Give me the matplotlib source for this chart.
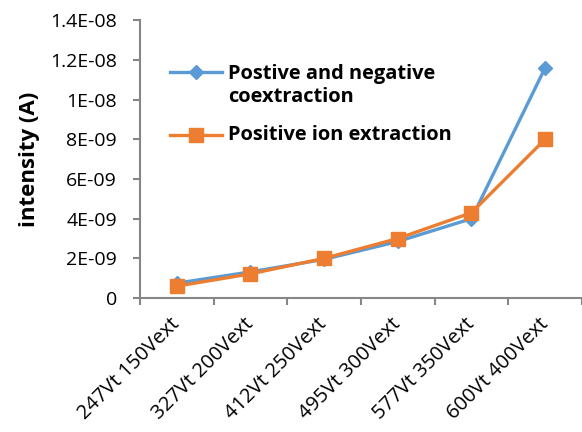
import matplotlib.pyplot as plt
from matplotlib.ticker import FixedLocator, FixedFormatter

plt.rcParams["font.family"] = ["Open Sans", "DejaVu Sans"]

categories = [
    "247Vt 150Vext",
    "327Vt 200Vext",
    "412Vt 250Vext",
    "495Vt 300Vext",
    "577Vt 350Vext",
    "600Vt 400Vext",
]
coextraction = [0.75e-9, 1.32e-9, 1.95e-9, 2.85e-9, 4.0e-9, 11.6e-9]
positive_ion = [0.6e-9, 1.22e-9, 2.0e-9, 3.0e-9, 4.3e-9, 8.0e-9]

y_ticks = [0, 2e-9, 4e-9, 6e-9, 8e-9, 1e-8, 1.2e-8, 1.4e-8]
y_tick_labels = ["0", "2E-09", "4E-09", "6E-09", "8E-09", "1E-08", "1.2E-08", "1.4E-08"]

BLUE = "#5B9BD5"
ORANGE = "#ED7D31"
AXIS_GRAY = "#868686"

fig = plt.figure(figsize=(5.82, 4.32), dpi=100)
ax = fig.add_axes([0.2405, 0.310, 0.7595, 0.6435])

x = range(len(categories))
ax.plot(x, coextraction, color=BLUE, lw=2.4, marker="D", ms=7, zorder=3)
ax.plot(x, positive_ion, color=ORANGE, lw=2.4, marker="s", ms=10, zorder=4)

ax.set_xlim(-0.5, len(categories) - 0.5)
ax.set_ylim(0, 1.4e-8)

ax.yaxis.set_major_locator(FixedLocator(y_ticks))
ax.yaxis.set_major_formatter(FixedFormatter(y_tick_labels))

# category boundaries get the tick marks, labels sit in the middle
ax.set_xticks([i - 0.5 for i in range(len(categories) + 1)])
ax.set_xticklabels([])
ax.set_xticks(list(x), minor=True)
ax.set_xticklabels(categories, minor=True, rotation=45, ha="right",
                   rotation_mode="anchor", va="center", fontsize=14.5)
ax.tick_params(axis="x", which="minor", length=0, pad=17)
ax.tick_params(axis="x", which="major", length=5, width=1.5, color=AXIS_GRAY)
ax.tick_params(axis="y", length=5, width=1.5, color=AXIS_GRAY, labelsize=14, pad=11.5)

for side in ("top", "right"):
    ax.spines[side].set_visible(False)
for side in ("left", "bottom"):
    ax.spines[side].set_color(AXIS_GRAY)
    ax.spines[side].set_linewidth(1.5)

ax.set_ylabel("intensity (A)", fontsize=16, fontweight="bold", labelpad=7)

# legend drawn by hand so the handle lines up with the first text line
legend_rows = [
    (BLUE, "D", 7, "Postive and negative\ncoextraction", 0.813, 0.763),
    (ORANGE, "s", 10, "Positive ion extraction", 0.586, 0.586),
]
for color, marker, ms, label, y_handle, y_text in legend_rows:
    ax.plot([0.068, 0.127, 0.186], [y_handle] * 3, transform=ax.transAxes,
            color=color, lw=2.4, marker=marker, ms=ms, markevery=[1],
            clip_on=False)
    ax.text(0.199, y_text, label, transform=ax.transAxes, fontsize=14.4,
            fontweight="bold", va="center", linespacing=1.2)

fig.savefig("out.png", dpi=100)
